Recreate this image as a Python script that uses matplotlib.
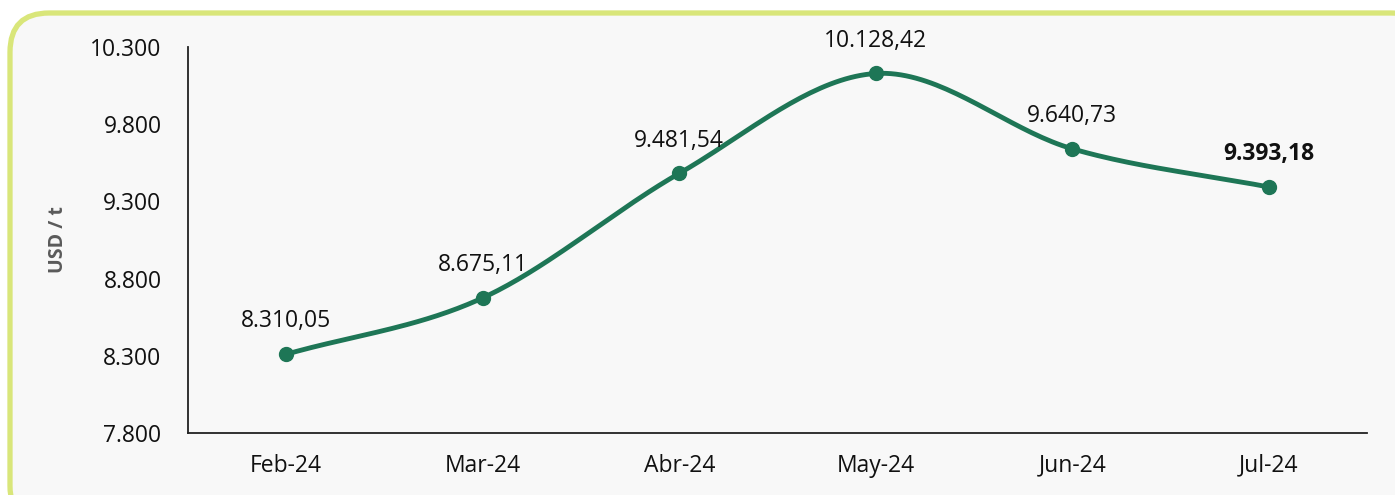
import numpy as np
import matplotlib.pyplot as plt
from matplotlib.patches import FancyBboxPatch

plt.rcParams['font.family'] = ['Open Sans', 'DejaVu Sans']

# Datos
meses = ['Feb-24', 'Mar-24', 'Abr-24', 'May-24', 'Jun-24', 'Jul-24']
precios = [8310.05, 8675.11, 9481.54, 10128.42, 9640.73, 9393.18]
yticks = [7800, 8300, 8800, 9300, 9800, 10300]

verde = '#1e7656'


def fmt_es(v, dec=2):
    s = f"{v:,.{dec}f}"
    return s.replace(',', 'X').replace('.', ',').replace('X', '.')


# Curva suavizada tipo Catmull-Rom entre los puntos
def suavizar(x, y, n=40):
    x = np.asarray(x, float)
    y = np.asarray(y, float)
    px = np.concatenate([[2 * x[0] - x[1]], x, [2 * x[-1] - x[-2]]])
    py = np.concatenate([[2 * y[0] - y[1]], y, [2 * y[-1] - y[-2]]])
    xs, ys = [], []
    t = np.linspace(0, 1, n)
    for i in range(1, len(px) - 2):
        for p, out in ((px, xs), (py, ys)):
            p0, p1, p2, p3 = p[i - 1], p[i], p[i + 1], p[i + 2]
            out.extend(0.5 * (2 * p1 + (-p0 + p2) * t
                              + (2 * p0 - 5 * p1 + 4 * p2 - p3) * t ** 2
                              + (-p0 + 3 * p1 - 3 * p2 + p3) * t ** 3))
    return np.array(xs), np.array(ys)


fig = plt.figure(figsize=(13.95, 4.95), dpi=100)
fig.patch.set_facecolor('white')
borde = FancyBboxPatch((10 / 1395, -30 / 495), 1420 / 1395, 512 / 495,
                       boxstyle='round,pad=0,rounding_size=0.028',
                       transform=fig.transFigure, facecolor='#f8f8f8',
                       edgecolor='#d9e67a', linewidth=3.8, zorder=-10,
                       mutation_aspect=1395 / 495)
fig.patches.append(borde)

ax = fig.add_axes([188 / 1395, 1 - 433 / 495, 1179 / 1395, 386 / 495])
ax.set_facecolor('none')

x = np.arange(len(meses))
xs, ys = suavizar(x, precios)
ax.plot(xs, ys, color=verde, linewidth=3.5, solid_capstyle='round', zorder=2)
ax.plot(x, precios, 'o', color=verde, markersize=10, zorder=3)

for i, v in enumerate(precios):
    ax.annotate(fmt_es(v), (x[i], v), xytext=(0, 15), textcoords='offset points',
                ha='center', va='bottom', fontsize=16.5, color='#111111',
                fontweight='bold' if i == len(precios) - 1 else 'normal')

ax.set_xlim(-0.5, len(meses) - 0.5)
ax.set_ylim(7800, 10300)
ax.set_yticks(yticks)
ax.set_yticklabels([fmt_es(v, 0) for v in yticks])
ax.set_xticks(x)
ax.set_xticklabels(meses)
ax.tick_params(axis='both', length=0, labelsize=16.5, colors='#111111')
ax.tick_params(axis='y', pad=19)
ax.tick_params(axis='x', pad=15)
for s in ['top', 'right']:
    ax.spines[s].set_visible(False)
for s in ['left', 'bottom']:
    ax.spines[s].set_color('#222222')
    ax.spines[s].set_linewidth(1.3)
ax.set_ylabel('USD / t', fontsize=14, fontweight='bold', color='#5a5a5a', labelpad=16)

fig.savefig('out.png', dpi=100, facecolor='white')
